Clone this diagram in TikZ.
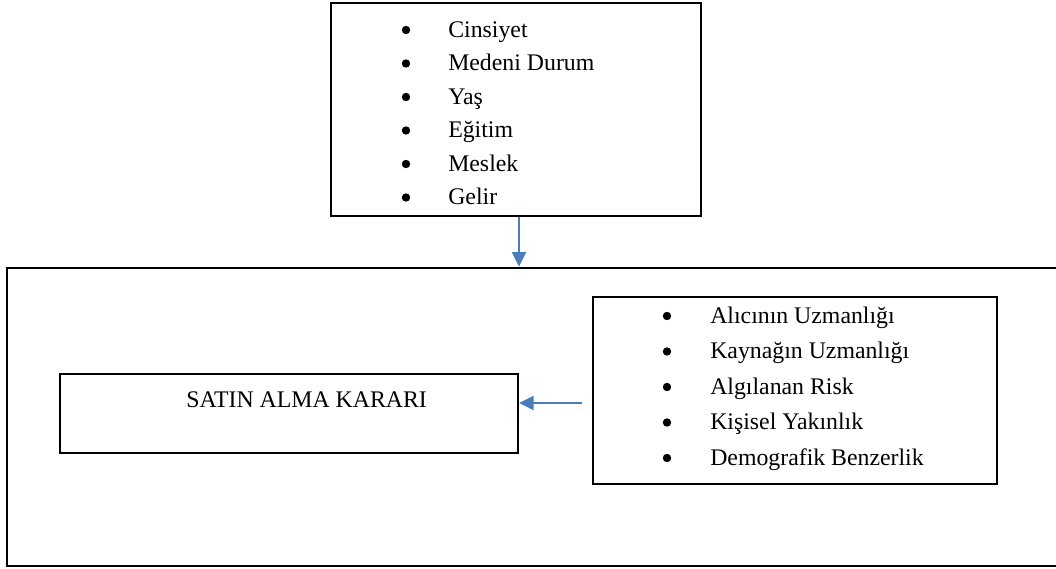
\documentclass[tikz,border=0pt]{standalone}
\usepackage{fontspec}
\setmainfont{Liberation Serif}
\usetikzlibrary{arrows.meta}
\definecolor{arrowblue}{RGB}{74,126,187}
\tikzset{
  box/.style={draw=black, line width=1.5pt, rectangle, inner sep=0pt},
  bigbox/.style={draw=black, line width=1.9pt, rectangle, inner sep=0pt},
  txt/.style={inner sep=0pt, font=\fontsize{17.85}{20}\selectfont},
  bul/.style={circle, fill=black, inner sep=0pt, minimum size=6.3pt},
  item/.style={txt, anchor=base west},
  arr/.style={draw=arrowblue, line width=1.5pt, -{Triangle[length=11pt,width=10.5pt]}}
}
\begin{document}
\begin{tikzpicture}[x=0.75pt,y=-0.75pt]
\clip (0,0) rectangle (1056,568);
% boxes
\node[box, minimum width=277.5pt, minimum height=159.75pt] (demo) at (516,109.5) {};
\node[bigbox, minimum width=794.25pt, minimum height=223.5pt] (big) at (536.5,417) {};
\node[box, minimum width=303pt, minimum height=140.25pt] (factors) at (795,390.5) {};
\node[box, minimum width=343.5pt, minimum height=59.25pt] (karar) at (289,413.5) {};
% texts
\node[item] (kt) at (186,407) {SATIN ALMA KARARI};
\foreach \t [count=\i from 0] in {Cinsiyet, Medeni Durum, Ya\c{s}, E\u{g}itim, Meslek, Gelir}{
  \node[bul] (db\i) at (406,{30+33.5*\i}) {};
  \node[item] (dt\i) at (448,{37+33.5*\i}) {\t};
}
\foreach \t [count=\i from 0] in {Alıcının Uzmanlığı, Kaynağın Uzmanlığı, Algılanan Risk, Kişisel Yakınlık, Demografik Benzerlik}{
  \node[bul] (fb\i) at (667,{316+35.5*\i}) {};
  \node[item] (ft\i) at (710,{323+35.5*\i}) {\t};
}
% connectors
\coordinate (a1) at (582,403);
\draw[arr] ([xshift=2.25pt]demo.south) -- ([xshift=2.25pt]demo.south |- big.north);
\draw[arr] (a1) -- (karar.east |- a1);
\end{tikzpicture}
\end{document}
